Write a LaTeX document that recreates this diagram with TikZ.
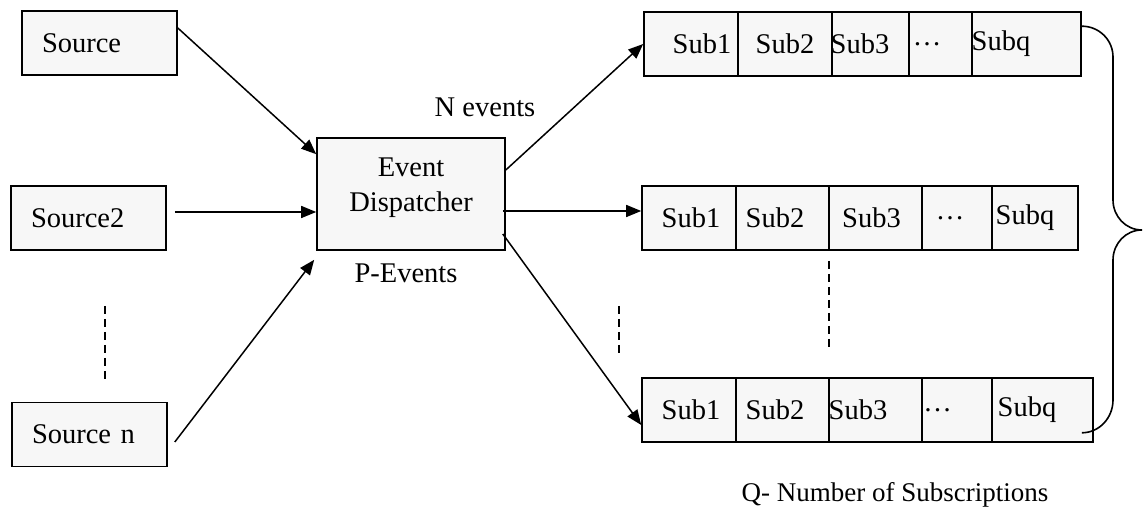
\documentclass[tikz,border=0pt]{standalone}
\usepackage{fontspec}
\setmainfont{Liberation Serif}
\usetikzlibrary{arrows.meta}
\definecolor{boxfill}{RGB}{247,247,247}
\tikzset{
  srcbox/.style={draw, line width=1.6pt, fill=boxfill, minimum height=64pt, text width=115pt, inner xsep=20pt, inner ysep=0pt, align=left},
  edbox/.style={draw, line width=1.6pt, fill=boxfill, minimum width=188pt, minimum height=112pt, inner sep=0pt},
  cell/.style={draw, line width=1.6pt, fill=boxfill, minimum height=64pt, inner sep=0pt},
  arr/.style={line width=1.5pt, -{Triangle[length=15pt,width=12pt]}},
  dsh/.style={line width=1.3pt, dash pattern=on 8pt off 5pt},
  brc/.style={line width=1.6pt},
  txt/.style={inner sep=0pt, anchor=base}
}
\begin{document}
\begin{tikzpicture}[x=1pt, y=1pt, font=\fontsize{28.5}{35}\selectfont]
\useasboundingbox (0,0) rectangle (1143,513);
% sources
\node[srcbox] (src)  at (99.5,470) {Source};
\node[srcbox] (src2) at (88.5,295) {Source2};
\node[srcbox] (srcn) at (89.5,78.5) {Source n};
% dispatcher
\node[edbox, label={[align=center, yshift=6pt]center:Event\\Dispatcher}] (ed) at (411,319) {};
% top row
\node[cell, minimum width=94pt,  label={[xshift=11pt]center:Sub1}] (t1) at (691,469) {};
\node[cell, minimum width=94pt,  label={[xshift=0pt]center:Sub2}] (t2) at (785,469) {};
\node[cell, minimum width=77pt,  label={[xshift=-10.5pt]center:Sub3}] (t3) at (870.5,469) {};
\node[cell, minimum width=63pt,  label={[xshift=-13.5pt]center:…}] (t4) at (940.5,469) {};
\node[cell, minimum width=109pt, label={[xshift=-25.5pt]center:Subq}] (t5) at (1026.5,469) {};
% middle row
\node[cell, minimum width=94pt, label={[xshift=2pt]center:Sub1}] (m1) at (689,295) {};
\node[cell, minimum width=93pt, label={[xshift=-7.5pt]center:Sub2}] (m2) at (782.5,295) {};
\node[cell, minimum width=93pt, label={[xshift=-4pt]center:Sub3}] (m3) at (875.5,295) {};
\node[cell, minimum width=70pt, label={[xshift=-7pt]center:…}] (m4) at (957,295) {};
\node[cell, minimum width=86pt, label={[xshift=-10pt]center:Subq}] (m5) at (1035,295) {};
% bottom row
\node[cell, minimum width=94pt,  label={[xshift=2pt]center:Sub1}] (b1) at (689,103) {};
\node[cell, minimum width=93pt,  label={[xshift=-7.5pt]center:Sub2}] (b2) at (782.5,103) {};
\node[cell, minimum width=93pt,  label={[xshift=-17.5pt]center:Sub3}] (b3) at (875.5,103) {};
\node[cell, minimum width=70pt,  label={[xshift=-19.5pt]center:…}] (b4) at (957,103) {};
\node[cell, minimum width=101pt, label={[xshift=-15.5pt]center:Subq}] (b5) at (1042.5,103) {};
% labels
\node[txt] (nev) at (485,396) {N events};
\node[txt] (pev) at (406,230) {P-Events};
\node[txt, font=\fontsize{27}{32}\selectfont] (qn) at (895,11) {Q- Number of Subscriptions};
% arrows in
\draw[arr] ([yshift=15pt]src.east) -- ([yshift=-17pt]ed.north west);
\draw[arr] ([xshift=8pt,yshift=6pt]src2.east) -- ([yshift=-18pt]ed.west);
\draw[arr] ([xshift=7pt,yshift=-7.5pt]srcn.east) -- ([xshift=-2pt,yshift=-9pt]ed.south west);
% arrows out
\draw[arr] ([yshift=24pt]ed.east) -- (t1.west);
\draw[arr] ([xshift=-3pt,yshift=-17pt]ed.east) -- ([yshift=7pt]m1.west);
\draw[arr] ([xshift=-3pt,yshift=-40pt]ed.east) -- ([yshift=-15pt]b1.west);
% dashed ellipsis lines
\draw[dsh] (105,207) -- (105,130);
\draw[dsh] (619,207) -- (619,158);
\draw[dsh] (829,252) -- (829,162);
% brace
\coordinate (tip) at (1142,283);
\draw[brc] ([yshift=-15pt]t5.north east) to[out=0,in=90] (1113,456) -- (1113,313)
  to[out=-90,in=180] (tip) to[out=180,in=90] (1113,253) -- (1113,113)
  to[out=-90,in=0] ([xshift=-12pt,yshift=10pt]b5.south east);
\end{tikzpicture}
\end{document}
